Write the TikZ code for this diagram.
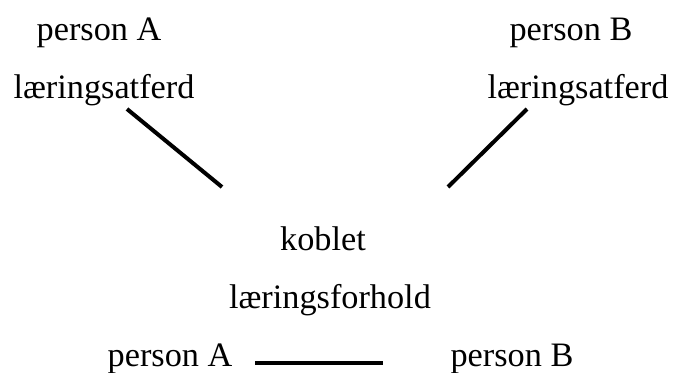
\documentclass[tikz,border=0pt]{standalone}
\usepackage{fontspec}
\setmainfont{Liberation Serif}
\begin{document}
\begin{tikzpicture}[x=0.75pt,y=-0.75pt,
  lbl/.style={anchor=base,inner sep=0pt,font=\fontsize{25.7pt}{30pt}\selectfont},
  link/.style={line width=3pt}]
\useasboundingbox (0,0) rectangle (675,372);
\node[lbl] (pa) at (99,40) {person A};
\node[lbl] (la) at (104,98) {læringsatferd};
\node[lbl] (pb) at (571,40) {person B};
\node[lbl] (lb) at (578,98) {læringsatferd};
\node[lbl] (k) at (323,250) {koblet};
\node[lbl] (lf) at (330,308) {læringsforhold};
\node[lbl] (pa2) at (170,366) {person A};
\node[lbl] (pb2) at (512,366) {person B};
\coordinate (a1) at (127,109);
\coordinate (a2) at (222,187);
\coordinate (b1) at (527,109);
\coordinate (b2) at (448,187);
\coordinate (c1) at (255,363);
\coordinate (c2) at (383,363);
\draw[link] (a1) -- (a2);
\draw[link] (b1) -- (b2);
\draw[link] (c1) -- (c2);
\end{tikzpicture}
\end{document}
